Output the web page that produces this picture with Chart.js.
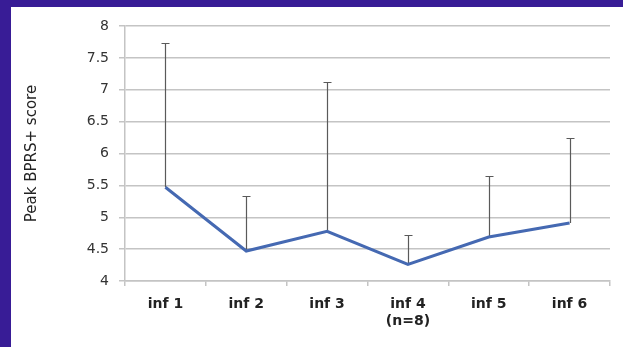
<!DOCTYPE html>
<html>
<head>
<meta charset="utf-8">
<title>Peak BPRS+ score by infusion</title>
<script src="https://cdn.jsdelivr.net/npm/chart.js@4.4.1/dist/chart.umd.min.js"></script>
<style>
  html, body { margin: 0; padding: 0; }
  body { width: 623px; height: 347px; background: #381c96; position: relative; overflow: hidden; }
  #panel { position: absolute; left: 11px; top: 7px; width: 612px; height: 340px; background: #ffffff; }
  canvas { display: block; }
</style>
</head>
<body>
<div id="panel"><canvas id="chart" width="612" height="340"></canvas></div>
<script>
// Infusion labels (inf 4 had a smaller sample)
const categories = ['inf 1', 'inf 2', 'inf 3', ['inf 4', '(n=8)'], 'inf 5', 'inf 6'];
// Mean peak BPRS+ score per infusion
const meanScores = [5.47, 4.47, 4.78, 4.26, 4.69, 4.91];
// Upper error bar length (SD) per infusion
const errorUp = [2.27, 0.87, 2.34, 0.46, 0.96, 1.33];
// Y axis range
const yMin = 4, yMax = 8, yStep = 0.5;

// Draws upper-only error bars with a small cap, underneath the line
const errorBars = {
  id: 'errorBars',
  beforeDatasetsDraw(chart) {
    const { ctx, scales } = chart;
    const xs = scales.x, ys = scales.y;
    ctx.save();
    ctx.strokeStyle = '#5a5a5a';
    ctx.lineWidth = 1.2;
    meanScores.forEach((v, i) => {
      const x = Math.round(xs.getPixelForValue(i)) + 0.5;
      const y0 = ys.getPixelForValue(v);
      const y1 = Math.round(ys.getPixelForValue(v + errorUp[i])) + 0.5;
      ctx.beginPath();
      ctx.moveTo(x, y0);
      ctx.lineTo(x, y1);
      ctx.moveTo(x - 4, y1);
      ctx.lineTo(x + 4, y1);
      ctx.stroke();
    });
    ctx.restore();
  }
};

new Chart(document.getElementById('chart'), {
  type: 'line',
  data: {
    labels: categories,
    datasets: [{
      data: meanScores,
      borderColor: '#4569b2',
      borderWidth: 3,
      pointRadius: 0,
      tension: 0,
      fill: false
    }]
  },
  options: {
    responsive: false,
    animation: false,
    devicePixelRatio: 1,
    layout: { padding: { top: 19, right: 13, left: 0, bottom: 0 } },
    plugins: { legend: { display: false }, tooltip: { enabled: false } },
    scales: {
      x: {
        offset: true,
        grid: { offset: true, drawOnChartArea: false, tickLength: 5, color: '#c4c4c4', lineWidth: 1.5 },
        border: { color: '#c4c4c4', width: 1.5 },
        ticks: {
          color: '#222222',
          padding: 10,
          maxRotation: 0,
          font: { family: 'DejaVu Sans', size: 14, weight: 'bold', lineHeight: 1.2 }
        },
        afterFit(scale) { scale.height = 66; }
      },
      y: {
        min: yMin,
        max: yMax,
        grid: { color: '#c4c4c4', lineWidth: 1.5, tickLength: 6 },
        border: { color: '#c4c4c4', width: 1.5 },
        ticks: {
          stepSize: yStep,
          color: '#333333',
          padding: 10,
          font: { family: 'DejaVu Sans', size: 14 },
          callback: (value) => String(Number(value))
        },
        title: {
          display: true,
          text: 'Peak BPRS+ score',
          color: '#222222',
          padding: { top: 12, bottom: 0 },
          font: { family: 'DejaVu Sans', size: 15, lineHeight: 1.2 }
        },
        afterFit(scale) { scale.width = 114; }
      }
    }
  },
  plugins: [errorBars]
});
</script>
</body>
</html>
